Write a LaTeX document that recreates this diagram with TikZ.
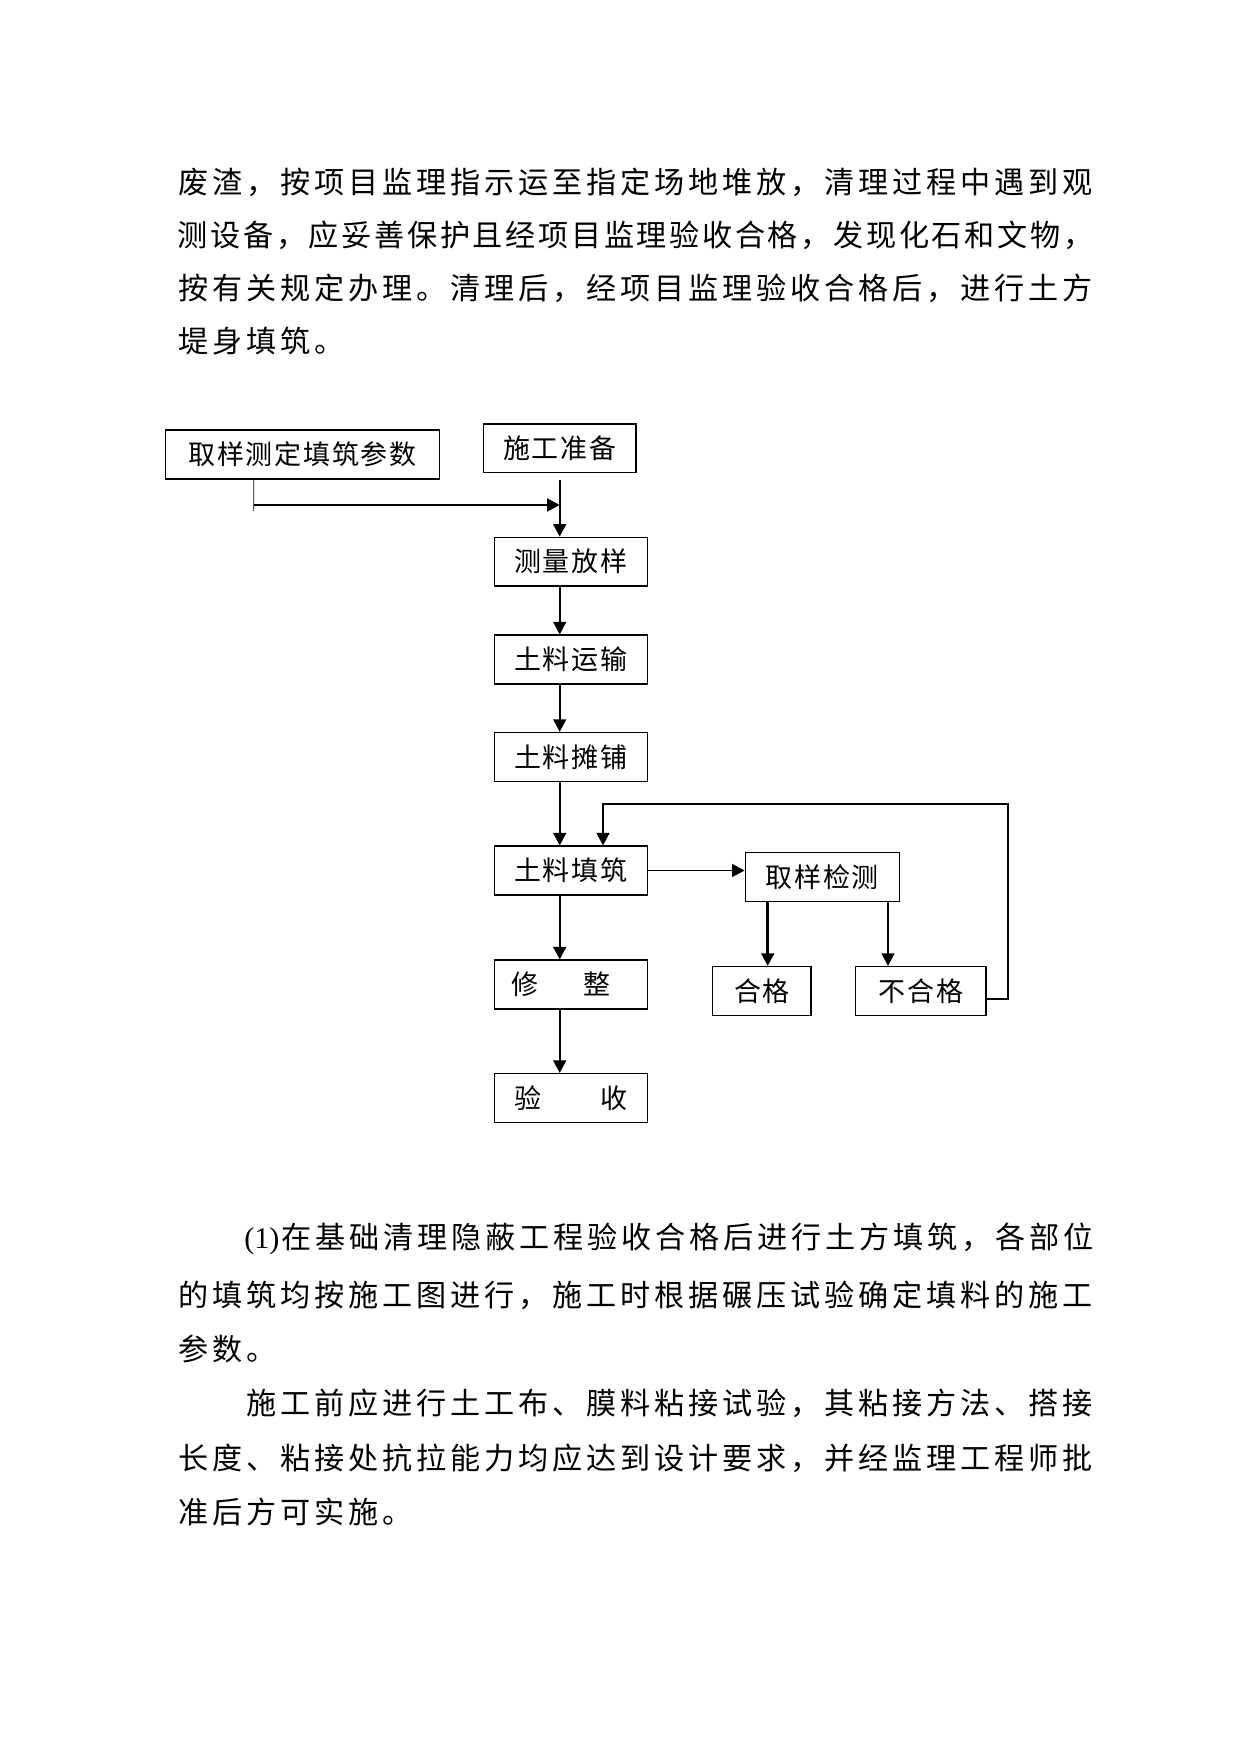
\documentclass[tikz,border=0pt]{standalone}
\usepackage{fontspec}
\setmainfont{Liberation Serif}
\newfontfamily\song{Noto Sans CJK SC}
\usetikzlibrary{arrows.meta}

\newlength\unitpx
\setlength\unitpx{0.16922mm}
\newlength\gridpitch
\def\gridstop{}
\newcommand\gridtext[2]{\setlength\gridpitch{#1}\gridloop#2\gridstop}
\def\gridloop#1{\ifx#1\gridstop\else\makebox[\gridpitch]{#1}\expandafter\gridloop\fi}
\newcommand\bodyfont{\song\fontsize{14.5pt}{17pt}\selectfont}
\newcommand\boxfont{\song\fontsize{13pt}{15pt}\selectfont}

\tikzset{
	box/.style={draw, line width=0.7pt, inner sep=0pt, minimum height=48.7\unitpx, font=\boxfont},
	textline/.style={anchor=west, inner sep=0pt, font=\bodyfont},
	>={Triangle[length=6pt,width=6.2pt]}
}

\begin{document}
\begin{tikzpicture}[x=0.16922mm,y=-0.16922mm]
	\useasboundingbox (0,0) rectangle (1241,1754);

	% text above the chart
	\node[textline] (t1) at (176,182){\gridtext{34\unitpx}{废渣，按项目监理指示运至指定场地堆放，清理过程中遇到观}};
	\node[textline] (t2) at (176,235){\gridtext{32.79\unitpx}{测设备，应妥善保护且经项目监理验收合格，发现化石和文物，}};
	\node[textline] (t3) at (176,288){\gridtext{34\unitpx}{按有关规定办理。清理后，经项目监理验收合格后，进行土方}};
	\node[textline] (t4) at (176,341){\gridtext{34\unitpx}{堤身填筑。}};

	% boxes
	\node[box, minimum width=273.6\unitpx] (src) at (302.5,454.5){\gridtext{28.7\unitpx}{取样测定填筑参数}};
	\node[box, minimum width=152.7\unitpx] (prep) at (559.7,448.4){\gridtext{28.7\unitpx}{施工准备}};
	\node[box, minimum width=153\unitpx] (survey) at (570.8,561.7){\gridtext{28.7\unitpx}{测量放样}};
	\node[box, minimum width=153\unitpx] (haul) at (570.8,659.5){\gridtext{28.7\unitpx}{土料运输}};
	\node[box, minimum width=153\unitpx] (spread) at (570.8,756.9){\gridtext{28.7\unitpx}{土料摊铺}};
	\node[box, minimum width=153\unitpx] (fill) at (570.8,870.5){\gridtext{28.7\unitpx}{土料填筑}};
	\node[box, minimum width=153\unitpx] (trim) at (570.8,984.5){\makebox[28.7\unitpx]{修}\hspace{43\unitpx}\makebox[28.7\unitpx]{整}\hspace*{20\unitpx}};
	\node[box, minimum width=153\unitpx] (accept) at (570.8,1098){\makebox[28.7\unitpx]{验}\hspace{57.4\unitpx}\makebox[28.7\unitpx]{收}};
	\node[box, minimum width=154\unitpx] (test) at (822.3,877){\gridtext{28.7\unitpx}{取样检测}};
	\node[box, minimum width=98.3\unitpx] (pass) at (761.9,990.9){\gridtext{28.7\unitpx}{合格}};
	\node[box, minimum width=130.3\unitpx] (fail) at (920.9,991){\gridtext{28.7\unitpx}{不合格}};

	% connectors
	\coordinate (tail) at (253.7,511);
	\coordinate (merge) at (559.7,505);
	\draw[thin] ([xshift=-48.8\unitpx]src.south) -- (tail);
	\draw[thick][->] (tail |- merge) -- (merge);
	\draw[thick][->] ([yshift=-6.6\unitpx]prep.south) -- (prep.south |- survey.north);
	\draw[thick][->] (survey.south -| prep.south) -- (prep.south |- haul.north);
	\draw[thick][->] (haul.south -| prep.south) -- (prep.south |- spread.north);
	\draw[thick][->] (spread.south -| prep.south) -- (prep.south |- fill.north);
	\draw[thick][->] (fill.south -| prep.south) -- (prep.south |- trim.north);
	\draw[thick][->] (trim.south -| prep.south) -- (prep.south |- accept.north);

	\draw[thick][->] (fill.east) -- (fill.east -| test.west);
	\draw[very thick][->] ([xshift=-54.6\unitpx]test.south) -- ([xshift=-54.6\unitpx]test.south |- pass.north);
	\draw[thick][->] ([xshift=65.7\unitpx]test.south) -- ([xshift=65.7\unitpx]test.south |- fail.north);

	\coordinate (loop) at (1008.3,804);
	\draw[thick][->] ([yshift=-8\unitpx]fail.east) -| (loop) -| ([xshift=32.2\unitpx]fill.north);

	% text below the chart
	\node[textline] (b1) at (244,1239){\makebox[35\unitpx]{\rmfamily (1)}\gridtext{34\unitpx}{在基础清理隐蔽工程验收合格后进行土方填筑，各部位}};
	\node[textline] (b2) at (176,1295){\gridtext{34\unitpx}{的填筑均按施工图进行，施工时根据碾压试验确定填料的施工}};
	\node[textline] (b3) at (176,1349){\gridtext{34\unitpx}{参数。}};
	\node[textline] (b4) at (244,1403){\gridtext{34\unitpx}{施工前应进行土工布、膜料粘接试验，其粘接方法、搭接}};
	\node[textline] (b5) at (176,1458){\gridtext{34\unitpx}{长度、粘接处抗拉能力均应达到设计要求，并经监理工程师批}};
	\node[textline] (b6) at (176,1512){\gridtext{34\unitpx}{准后方可实施。}};
\end{tikzpicture}
\end{document}
